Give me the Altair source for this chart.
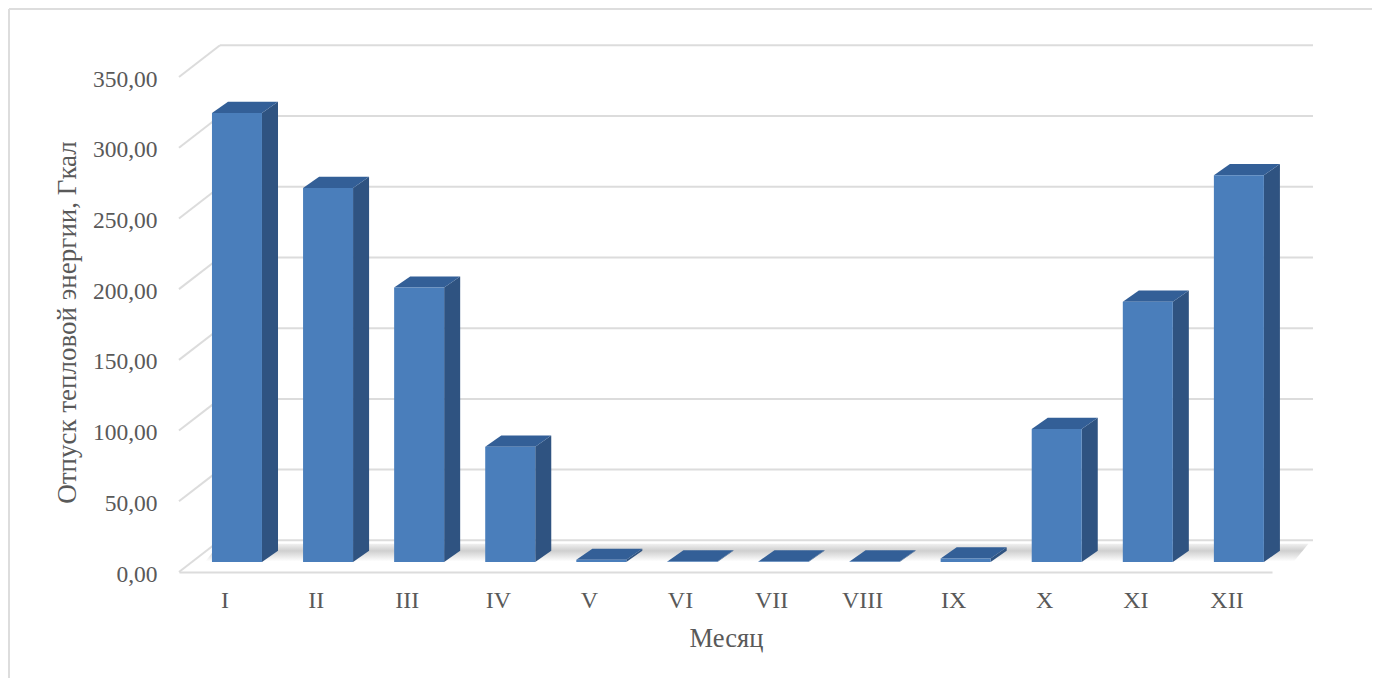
import altair as alt
import pandas as pd

months = ["I", "II", "III", "IV", "V", "VI", "VII", "VIII", "IX", "X", "XI", "XII"]
values = [317.5, 264.5, 194.0, 81.5, 1.5, 0.4, 0.4, 0.4, 2.5, 94.0, 184.0, 273.5]
ticks = [0, 50, 100, 150, 200, 250, 300, 350]

FONT = "Liberation Serif"
TXT = "#595959"
GRID = "#dcdcdc"

# depth of the pseudo-3D box, in data units
WALL_DX, WALL_DY = 0.45, 22.4
BAR_LEFT, BAR_W = 0.362, 0.549
BAR_BASE = 7.1
BAR_DX, BAR_DY = 0.176, 7.9

xs = alt.Scale(domain=[0, 12], nice=False, zero=False)
ys = alt.Scale(domain=[0, 350], nice=False, zero=False)

front, side, top, diag, back = [], [], [], [], []
for i, (m, v) in enumerate(zip(months, values)):
    xl = i + BAR_LEFT
    xr = xl + BAR_W
    y1 = BAR_BASE + v
    front.append(dict(m=m, x=xl, x2=xr, y=BAR_BASE, y2=y1))
    side += [
        dict(m=m, x=xr, lo=BAR_BASE, hi=y1),
        dict(m=m, x=xr + BAR_DX, lo=BAR_BASE + BAR_DY, hi=y1 + BAR_DY),
    ]
    top += [
        dict(m=m, x=xl, lo=y1, hi=y1),
        dict(m=m, x=xl + BAR_DX, lo=y1, hi=y1 + BAR_DY),
        dict(m=m, x=xr, lo=y1, hi=y1 + BAR_DY),
        dict(m=m, x=xr + BAR_DX, lo=y1 + BAR_DY, hi=y1 + BAR_DY),
    ]
for t in ticks:
    diag += [dict(t=t, x=0, y=t), dict(t=t, x=WALL_DX, y=t + WALL_DY)]
    back.append(dict(t=t, x=WALL_DX, x2=12 + WALL_DX, y=t + WALL_DY))

floor = pd.DataFrame([
    dict(x=0.29, lo=7.5, hi=7.5),
    dict(x=0.44, lo=7.5, hi=20.0),
    dict(x=12.24, lo=7.5, hi=20.0),
    dict(x=12.40, lo=20.0, hi=20.0),
])

label_expr = "[" + ",".join(f"'{m}'" for m in months) + "][floor(datum.value)]"

X_AXIS = alt.Axis(
    values=[i + 0.5 for i in range(12)], labelExpr=label_expr, title="Месяц",
    grid=False, ticks=False, domain=True, domainColor=GRID, domainWidth=2,
    labelFont=FONT, labelFontSize=24, labelColor=TXT, labelPadding=16,
    labelOverlap=False, labelAngle=0,
    titleFont=FONT, titleFontSize=26.5, titleColor=TXT, titleFontWeight="normal",
    titleX=547, titleY=53,
)
Y_AXIS = alt.Axis(
    values=ticks, labelExpr="replace(format(datum.value, '.2f'), '.', ',')",
    title="Отпуск тепловой энергии, Гкал",
    grid=False, ticks=False, domain=False,
    labelFont=FONT, labelFontSize=23.5, labelColor=TXT, labelPadding=22, labelOffset=2,
    titleFont=FONT, titleFontSize=27, titleColor=TXT, titleFontWeight="normal",
    titleX=-98, titleY=245,
)
X = lambda f: alt.X(f, scale=xs, axis=X_AXIS)
Y = lambda f: alt.Y(f, scale=ys, axis=Y_AXIS)

diag_layer = alt.Chart(pd.DataFrame(diag)).mark_line(color=GRID, strokeWidth=2).encode(
    x=X("x:Q"), y=Y("y:Q"), detail="t:N",
)
back_layer = alt.Chart(pd.DataFrame(back)).mark_rule(color=GRID, strokeWidth=2).encode(
    x=X("x:Q"), x2="x2:Q", y=Y("y:Q"),
)
floor_layer = alt.Chart(floor).mark_area(
    color=alt.Gradient(
        gradient="linear", x1=0, x2=0, y1=0, y2=1,
        stops=[
            alt.GradientStop(color="#f0f0f0", offset=0),
            alt.GradientStop(color="#cfcfcf", offset=0.4),
            alt.GradientStop(color="#ffffff", offset=1),
        ],
    )
).encode(x=X("x:Q"), y=Y("lo:Q"), y2="hi:Q")
side_layer = alt.Chart(pd.DataFrame(side)).mark_area(color="#2f5381").encode(
    x=X("x:Q"), y=Y("lo:Q"), y2="hi:Q", detail="m:N",
)
top_layer = alt.Chart(pd.DataFrame(top)).mark_area(color="#335f97").encode(
    x=X("x:Q"), y=Y("lo:Q"), y2="hi:Q", detail="m:N",
)
front_layer = alt.Chart(pd.DataFrame(front)).mark_rect(color="#4a7ebb").encode(
    x=X("x:Q"), x2="x2:Q", y=Y("y:Q"), y2="y2:Q",
)

FR = dict(color="#dddddd", strokeWidth=2, clip=False)
frame = [
    alt.Chart(pd.DataFrame({"a": [0]})).mark_rule(**FR).encode(
        x=alt.value(-170), y=alt.value(-68), y2=alt.value(601)),
    alt.Chart(pd.DataFrame({"a": [0]})).mark_rule(**FR).encode(
        x=alt.value(1194), y=alt.value(-68), y2=alt.value(601)),
    alt.Chart(pd.DataFrame({"a": [0]})).mark_rule(**FR).encode(
        y=alt.value(-68), x=alt.value(-170), x2=alt.value(1194)),
]

chart = alt.layer(
    *frame, diag_layer, back_layer, floor_layer, side_layer, top_layer, front_layer
).properties(
    width=1093, height=495,
    padding={"left": 171, "top": 69, "right": 100, "bottom": 106},
    autosize=alt.AutoSizeParams(type="none"),
    background="white",
).configure_view(stroke=None)

chart.save("out.html", embed_options={"renderer": "svg", "actions": False})
